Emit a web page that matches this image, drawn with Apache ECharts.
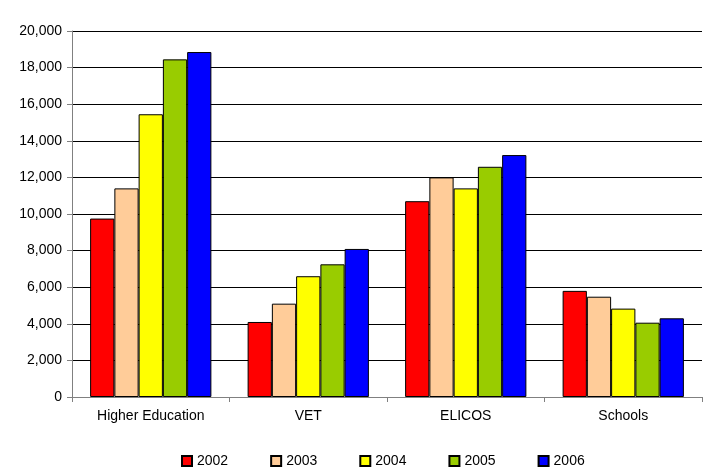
<!DOCTYPE html>
<html><head><meta charset="utf-8">
<script src="https://cdn.jsdelivr.net/npm/echarts@6/dist/echarts.min.js"></script>
<style>html,body{margin:0;padding:0;background:#fff}#c{width:703px;height:468px}</style>
</head><body><div id="c"></div>
<script>
const categories = ['Higher Education', 'VET', 'ELICOS', 'Schools'];
const years = ['2002', '2003', '2004', '2005', '2006'];
const v2002 = [9750, 4100, 10700, 5800];
const v2003 = [11400, 5100, 12000, 5480];
const v2004 = [15450, 6600, 11400, 4830];
const v2005 = [18450, 7250, 12580, 4060];
const v2006 = [18850, 8090, 13220, 4300];
const colors = ['#FF0000', '#FFCC99', '#FFFF00', '#99CC00', '#0000FF'];
const seriesData = [v2002, v2003, v2004, v2005, v2006];

const font = 'Liberation Sans, Arial, sans-serif';
const chart = echarts.init(document.getElementById('c'));
chart.setOption({
  animation: false,
  backgroundColor: '#fff',
  grid: { left: 72, right: 1, top: 31, bottom: 71, containLabel: false },
  legend: {
    top: 454, left: 181, padding: 0,
    icon: 'rect',
    itemWidth: 10, itemHeight: 10, itemGap: 42,
    textStyle: { fontFamily: font, fontSize: 14, color: '#000' },
    data: years
  },
  xAxis: {
    type: 'category', data: categories,
    axisLine: { lineStyle: { color: '#808080', width: 1 } },
    axisTick: { show: true, length: 5, lineStyle: { color: '#808080' } },
    axisLabel: { fontFamily: font, fontSize: 14, color: '#000', margin: 12 }
  },
  yAxis: {
    type: 'value', min: 0, max: 20000, interval: 2000,
    axisLine: { show: true, lineStyle: { color: '#808080' } },
    axisTick: { show: true, length: 5, lineStyle: { color: '#808080' } },
    splitLine: { lineStyle: { color: '#000', width: 1 } },
    axisLabel: { fontFamily: font, fontSize: 14, color: '#000', margin: 10,
      formatter: v => v.toLocaleString('en-US') }
  },
  series: seriesData.map((d, i) => ({
    name: years[i], type: 'bar', data: d,
    barGap: '0%', barCategoryGap: '23%',
    itemStyle: { color: colors[i], borderColor: '#000', borderWidth: 1 }
  }))
});
</script></body></html>
